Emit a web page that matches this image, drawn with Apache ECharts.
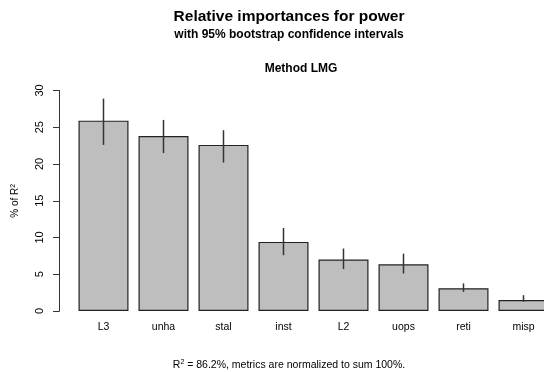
<!DOCTYPE html>
<html>
<head>
<meta charset="utf-8">
<script src="https://cdn.jsdelivr.net/npm/echarts@6/dist/echarts.min.js"></script>
<style>
  html, body { margin: 0; padding: 0; background: #ffffff; }
  #chart { width: 544px; height: 372px; }
</style>
</head>
<body>
<div id="chart"></div>
<script>
// Relative importance (LMG) of each regressor, in % of R^2
const categories = ['L3', 'unha', 'stal', 'inst', 'L2', 'uops', 'reti', 'misp'];
const lmgShare = [25.9, 23.8, 22.6, 9.4, 7.0, 6.35, 3.1, 1.5];
// 95% bootstrap confidence bounds
const ciLower = [22.6, 21.5, 20.2, 7.6, 5.7, 5.1, 2.6, 1.25];
const ciUpper = [28.9, 26.0, 24.6, 11.3, 8.5, 7.8, 3.75, 2.15];
const yTicks = [0, 5, 10, 15, 20, 25, 30];

const FONT = '"Liberation Sans", Arial, Helvetica, sans-serif';
const chart = echarts.init(document.getElementById('chart'), null, { renderer: 'canvas' });

// Bars sit at integer positions on a numeric x axis; the plot runs past the
// right edge so the last bar is cut off by the canvas.
const gridLeft = 73.5;
const slot = 60;                       // px per bar slot
const xMin = -0.5;
const xMax = xMin + (544 - gridLeft) / slot;

const option = {
  backgroundColor: '#ffffff',
  animation: false,
  textStyle: { fontFamily: FONT },
  title: [
    {
      text: 'Relative importances for power',
      left: 284, top: 3.5, textAlign: 'center',
      textStyle: { fontFamily: FONT, fontSize: 15.5, fontWeight: 'bold', color: '#000' }
    },
    {
      text: 'with 95% bootstrap confidence intervals',
      left: 284, top: 23.3, textAlign: 'center',
      textStyle: { fontFamily: FONT, fontSize: 12, fontWeight: 'bold', color: '#000' }
    },
    {
      text: 'Method LMG',
      left: 296, top: 57.3, textAlign: 'center',
      textStyle: { fontFamily: FONT, fontSize: 12, fontWeight: 'bold', color: '#000' }
    },
    {
      text: 'R{sup|2} = 86.2%, metrics are normalized to sum 100%.',
      left: 284, top: 354, textAlign: 'center',
      textStyle: {
        fontFamily: FONT, fontSize: 10.5, fontWeight: 'normal', color: '#000',
        rich: { sup: { fontFamily: FONT, fontSize: 7, verticalAlign: 'top', padding: [0, 0, 6, 0], color: '#000' } }
      }
    }
  ],
  grid: { left: gridLeft, top: 90.5, right: 0, bottom: 61, containLabel: false },
  xAxis: {
    type: 'value',
    min: xMin, max: xMax, interval: 0.5,
    axisLine: { show: false, onZero: false },
    axisTick: { show: false },
    splitLine: { show: false },
    axisLabel: {
      color: '#000', fontSize: 10.5, fontFamily: FONT, margin: 11,
      showMinLabel: false, showMaxLabel: false,
      formatter: function (v) {
        return Number.isInteger(v) && categories[v] !== undefined ? categories[v] : '';
      }
    }
  },
  yAxis: {
    type: 'value',
    min: yTicks[0], max: yTicks[yTicks.length - 1], interval: 5,
    offset: 14,
    name: '% of R{sup|2}',
    nameLocation: 'middle',
    nameRotate: 90,
    nameGap: 38,
    nameTextStyle: {
      color: '#000', fontSize: 10, fontFamily: FONT,
      rich: { sup: { fontSize: 7, verticalAlign: 'top', padding: [0, 0, 5, 0], color: '#000' } }
    },
    axisLine: { show: true, onZero: false, lineStyle: { color: '#333', width: 1 } },
    axisTick: { show: true, length: 6.5, lineStyle: { color: '#333', width: 1 } },
    axisLabel: { color: '#000', fontSize: 11, fontFamily: FONT, rotate: 90, margin: 14 },
    splitLine: { show: false }
  },
  series: [
    {
      type: 'bar',
      data: lmgShare.map((v, i) => [i, v]),
      barWidth: 50,
      itemStyle: { color: '#bebebe', borderColor: '#222', borderWidth: 1.2 }
    },
    {
      type: 'custom',
      data: categories.map((c, i) => [i, ciLower[i], ciUpper[i]]),
      encode: { x: 0, y: [1, 2] },
      renderItem: function (params, api) {
        const lo = api.coord([api.value(0), api.value(1)]);
        const hi = api.coord([api.value(0), api.value(2)]);
        return {
          type: 'line',
          shape: { x1: lo[0], y1: lo[1], x2: hi[0], y2: hi[1] },
          style: { stroke: '#333', lineWidth: 1.5 }
        };
      },
      z: 5
    }
  ]
};
chart.setOption(option);
</script>
</body>
</html>
